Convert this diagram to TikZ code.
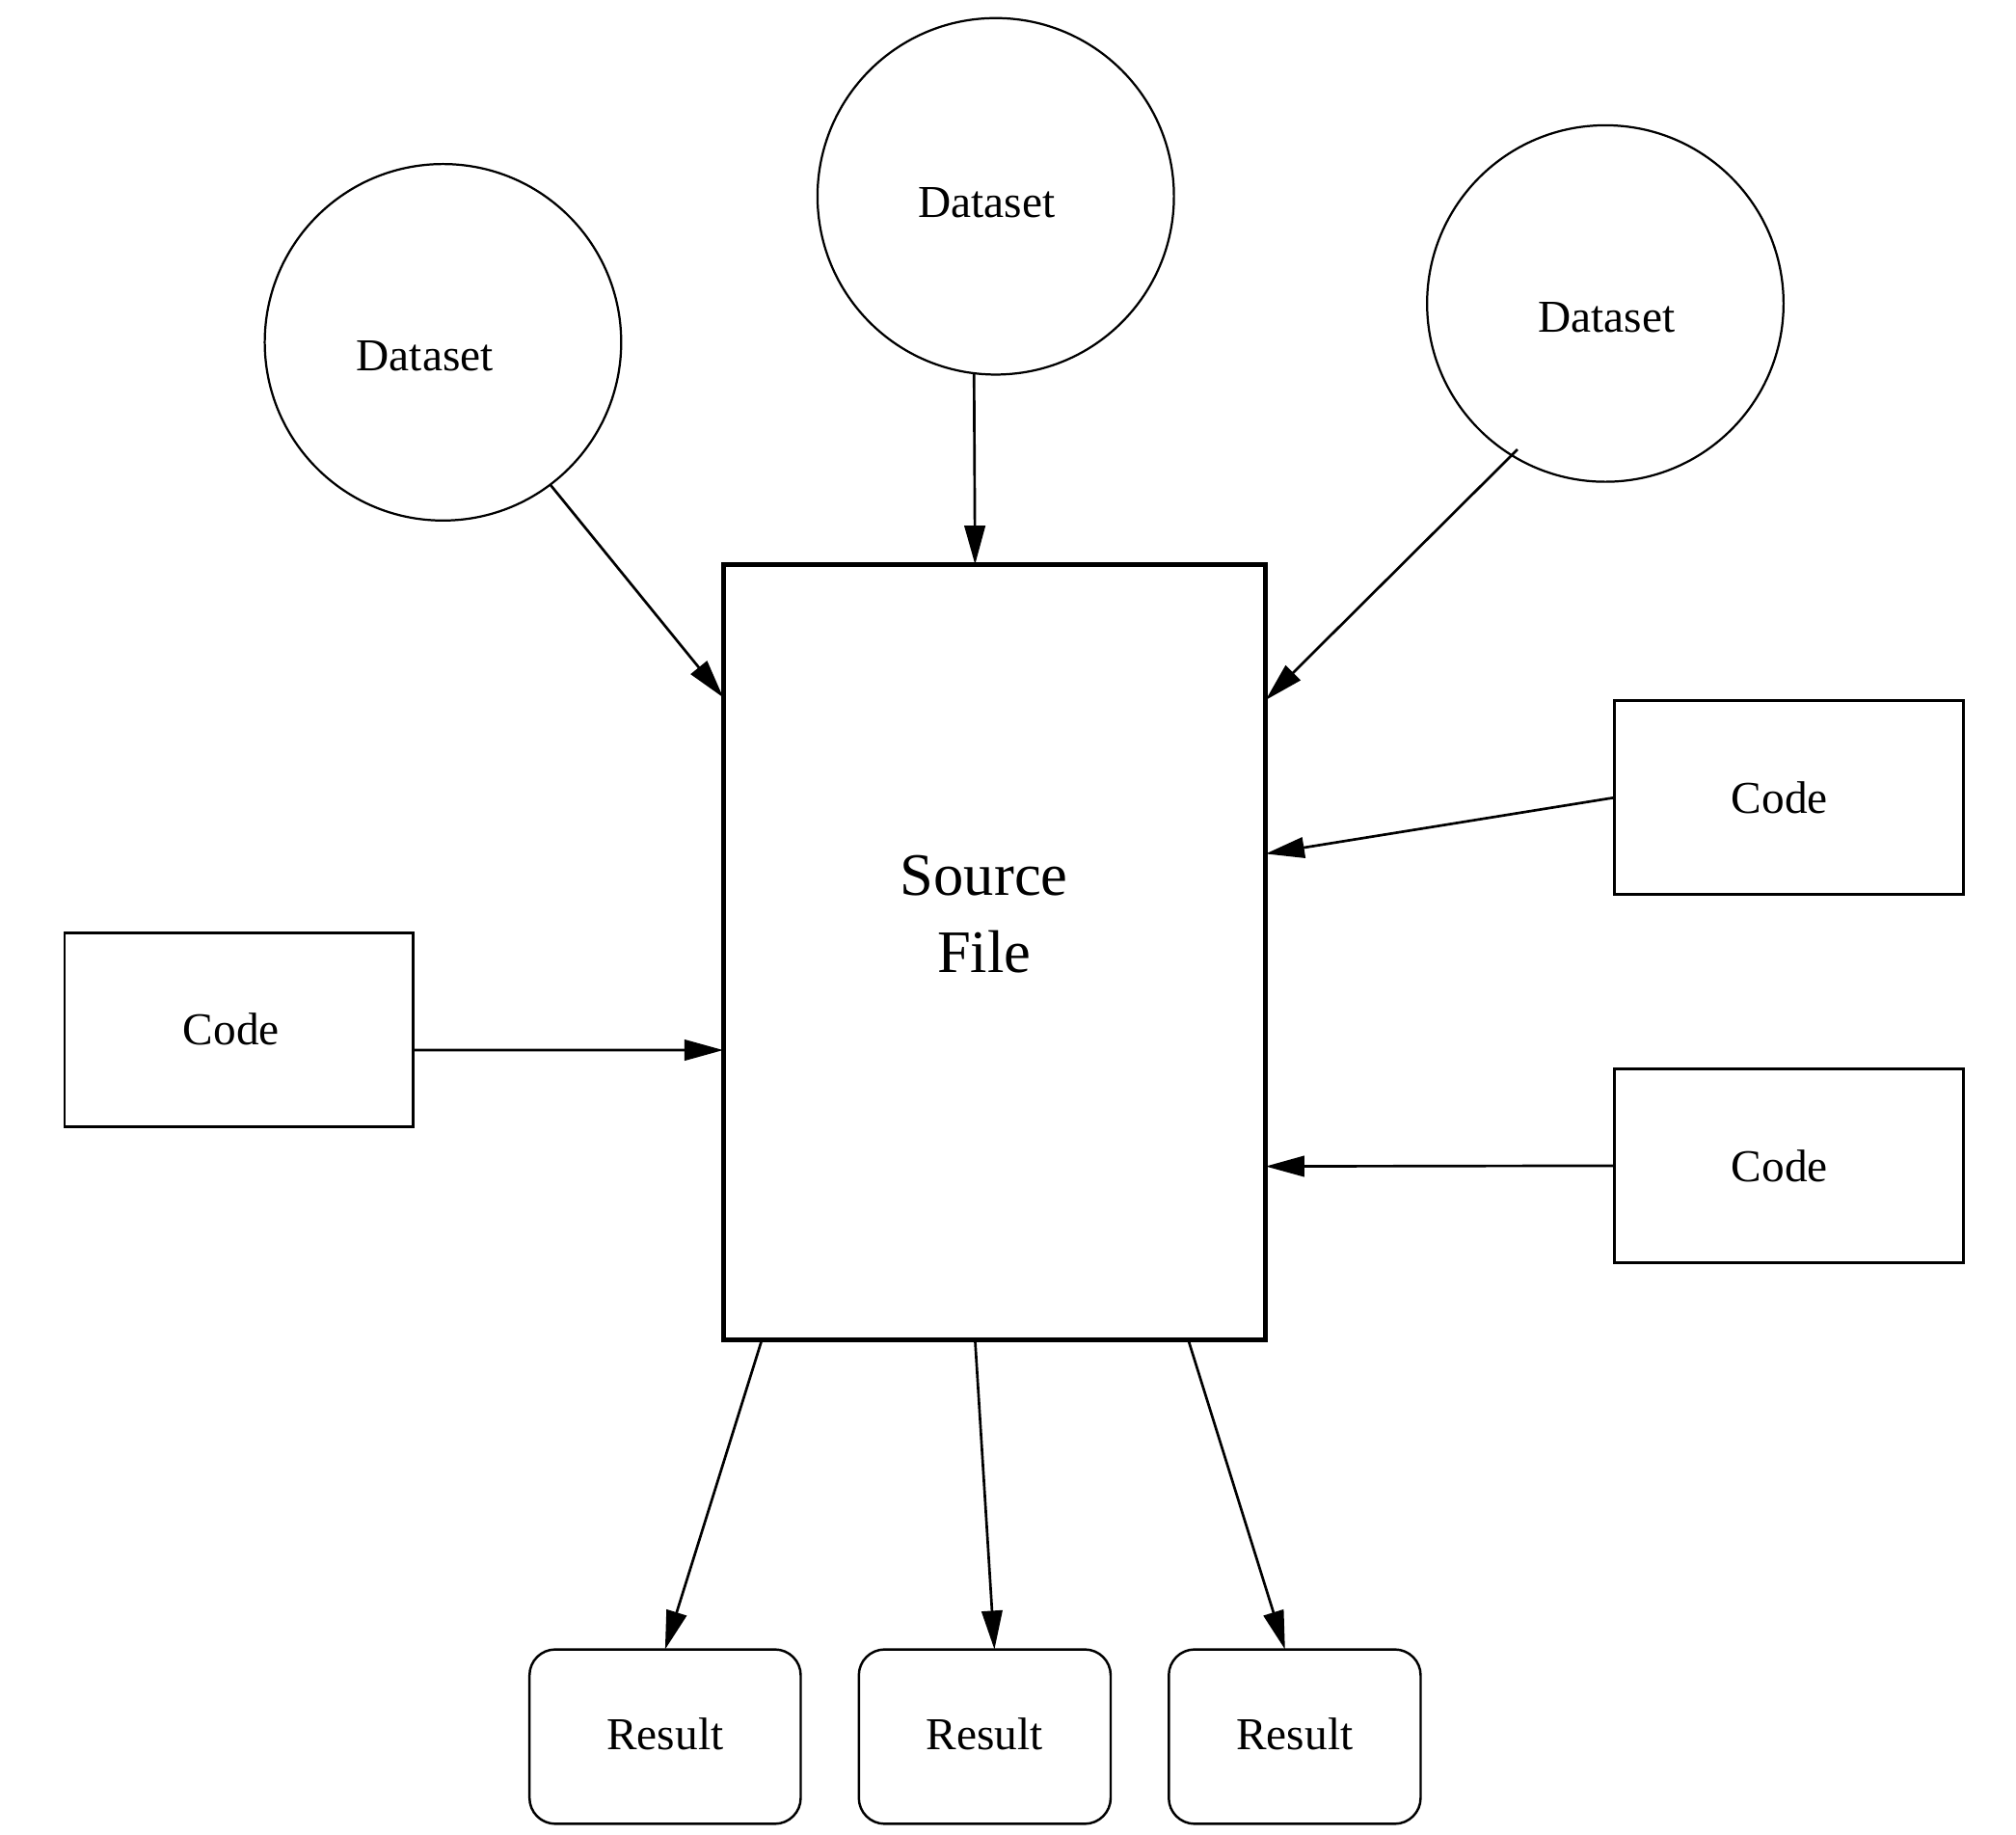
\documentclass[tikz,border=0pt]{standalone}
\usepackage{fontspec}
\setmainfont{Liberation Serif}
\usetikzlibrary{arrows.meta,calc}
\begin{document}
\begin{tikzpicture}[x=0.3pt,y=-0.3pt,
  every node/.style={outer sep=0pt},
  dataset/.style={draw,circle,line width=0.5pt,minimum size=82.8pt,inner sep=0pt},
  codebox/.style={draw,rectangle,line width=0.65pt,minimum width=81pt,minimum height=45pt,inner sep=0pt,font=\fontsize{10.6}{13}\selectfont},
  resbox/.style={draw,rectangle,rounded corners=6pt,line width=0.55pt,minimum height=40.5pt,inner sep=0pt,font=\fontsize{10.6}{13}\selectfont},
  srcbox/.style={draw,rectangle,line width=1.1pt,minimum width=126pt,minimum height=180pt,inner sep=0pt},
  lbl/.style={font=\fontsize{10.6}{13}\selectfont},
  conn/.style={line width=0.6pt,-{Triangle[length=9pt,width=4.8pt]}}]
\useasboundingbox (0,0) rectangle (1561,1420);
% datasets
\node[dataset,label={[lbl,shift={(-14,11)}]center:Dataset}] (d1) at (343,265) {};
\node[dataset,label={[lbl,shift={(-7,5)}]center:Dataset}] (d2) at (771,152) {};
\node[dataset,label={[lbl,shift={(1,11)}]center:Dataset}] (d3) at (1243,235) {};
% source
\node[srcbox,label={[align=center,font=\fontsize{14}{18}\selectfont,shift={(-8,-29)}]center:Source\\File}] (src) at (770,737) {};
% code
\node[codebox] (cL) at (185,797) {\hspace*{-3.6pt}Code};
\node[codebox] (cR1) at (1385,617.5) {\hspace*{-4.2pt}Code};
\node[codebox] (cR2) at (1385,902.5) {\hspace*{-4.2pt}Code};
% results
\node[resbox,minimum width=63pt] (r1) at (515,1344.5) {\raisebox{1.5pt}{Result}};
\node[resbox,minimum width=58.5pt] (r2) at (762.5,1344.5) {\raisebox{1.5pt}{Result}};
\node[resbox,minimum width=58.5pt] (r3) at (1002.5,1344.5) {\raisebox{1.5pt}{Result}};
% connectors
\draw[conn] (d1.-53) -- ($(src.north west)+(0,103)$);
\draw[conn] (d2.-97) -- ($(src.north west)+(195,0)$);
\draw[conn] ($(d3.center)+(-68,113)$) -- ($(src.north east)+(0,105)$);
\draw[conn] (cR1.west) -- ($(src.north east)+(0,224)$);
\draw[conn] ($(cL.east)+(0,16)$) -- ($(src.north west)+(0,376)$);
\draw[conn] (cR2.west) -- ($(src.north east)+(0,466)$);
\draw[conn] ($(src.south west)+(30,0)$) -- (r1.north);
\draw[conn] ($(src.south west)+(195,0)$) -- ($(r2.north)+(7.5,0)$);
\draw[conn] ($(src.south west)+(360,0)$) -- ($(r3.north)+(-7.5,0)$);
\end{tikzpicture}
\end{document}
